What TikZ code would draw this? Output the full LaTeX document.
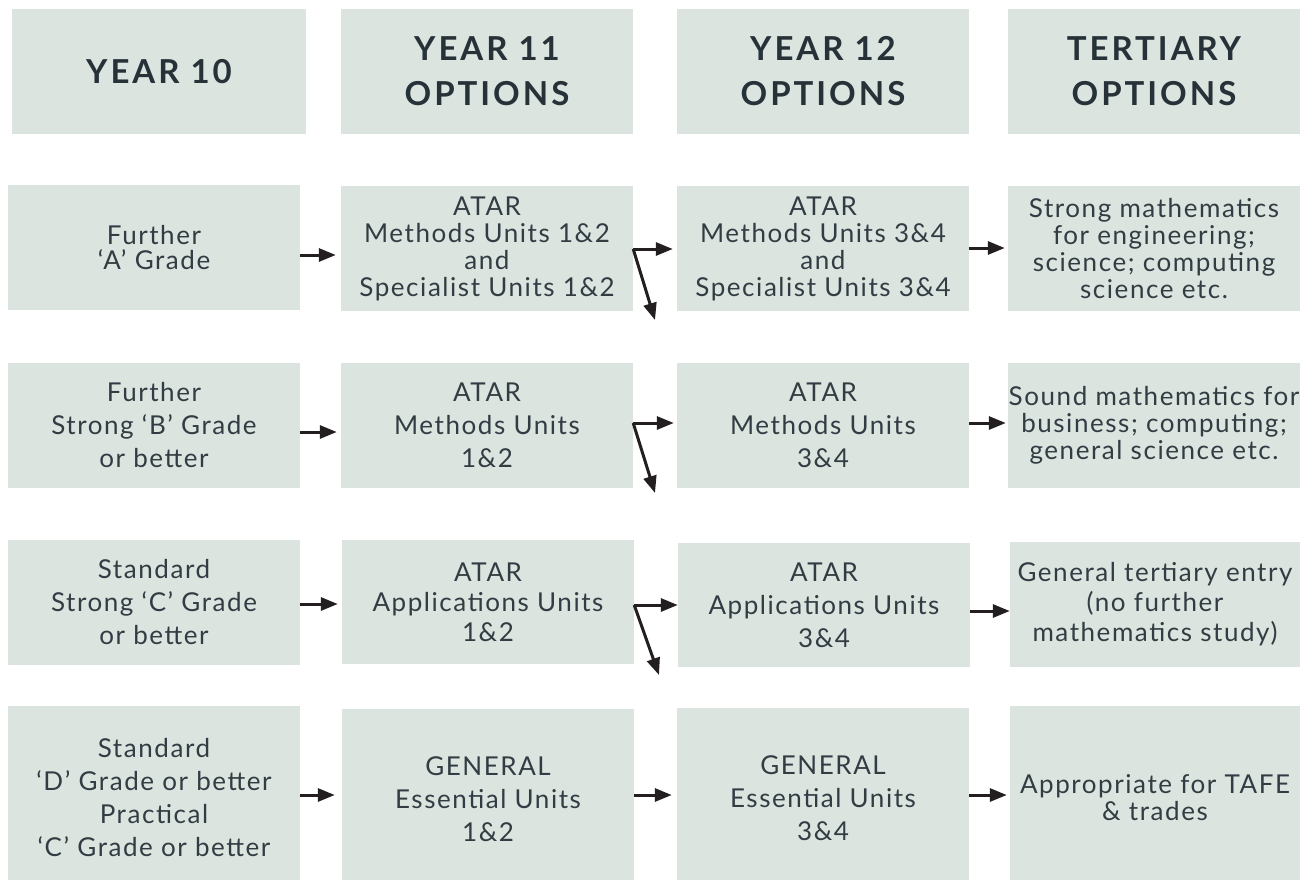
\documentclass[tikz,border=0pt]{standalone}
\usepackage{fontspec}
\setmainfont{Lato}
\newfontfamily\bodyfont[LetterSpace=6]{Lato}
\newfontfamily\headfont[LetterSpace=9]{Lato}
\usetikzlibrary{arrows.meta}
\definecolor{boxfill}{HTML}{DCE4E0}
\definecolor{txtc}{HTML}{323D43}
\definecolor{headc}{HTML}{263238}
\definecolor{arrc}{HTML}{231F20}
\begin{document}
\begin{tikzpicture}[x=1pt,y=-1pt,
  cell/.style={fill=boxfill, inner sep=0pt, align=center, text=txtc,
    minimum width=292pt, minimum height=125pt},
  hd/.style={cell, text=headc, font=\headfont\bfseries\fontsize{33}{45}\selectfont},
  lsA/.style={font=\bodyfont\fontsize{26}{25}\selectfont},
  lsB/.style={font=\bodyfont\fontsize{26}{27}\selectfont},
  lsC/.style={font=\bodyfont\fontsize{26}{30}\selectfont},
  lsD/.style={font=\bodyfont\fontsize{26}{33}\selectfont},
  arr/.style={draw=arrc, line width=3pt, -{Triangle[length=17pt,width=13pt]}}]
\useasboundingbox (0,0) rectangle (1311,879);
% headers
\node[hd, minimum width=294pt] (h1) at (159,71.5) {YEAR 10};
\node[hd] (h2) at (487,71.5) {YEAR 11\\OPTIONS};
\node[hd] (h3) at (823,71.5) {YEAR 12\\OPTIONS};
\node[hd] (h4) at (1154,71.5) {TERTIARY\\OPTIONS};
% row 1
\node[cell, lsA] (a1) at (154,247.5) {Further\\‘A’ Grade};
\node[cell, lsB] (b1) at (487,248.5) {ATAR\\Methods Units 1\&2\\and\\Specialist Units 1\&2};
\node[cell, lsB] (c1) at (823,248.5) {ATAR\\Methods Units 3\&4\\and\\Specialist Units 3\&4};
\node[cell, lsB] (d1) at (1154,248.5) {Strong mathematics\\for engineering;\\science; computing\\science etc.};
% row 2
\node[cell, lsD] (a2) at (154,425.5) {Further\\Strong ‘B’ Grade\\or better};
\node[cell, lsD] (b2) at (487,425.5) {ATAR\\Methods Units\\1\&2};
\node[cell, lsD] (c2) at (823,425.5) {ATAR\\Methods Units\\3\&4};
\node[cell, lsB] (d2) at (1154,425.5) {Sound mathematics for\\business; computing;\\general science etc.};
% row 3
\node[cell, lsD] (a3) at (154,602.5) {Standard\\Strong ‘C’ Grade\\or better};
\node[cell, lsC, minimum height=124pt] (b3) at (488,602) {ATAR\\Applications Units\\1\&2};
\node[cell, lsD, minimum height=124pt] (c3) at (824,605) {ATAR\\Applications Units\\3\&4};
\node[cell, lsC, minimum width=290pt] (d3) at (1155,604.5) {General tertiary entry\\(no further\\mathematics study)};
% row 4
\node[cell, lsD, minimum height=183pt] (a4) at (154,797.5) {Standard\\‘D’ Grade or better\\Practical\\‘C’ Grade or better};
\node[cell, lsD, minimum height=180pt] (b4) at (488,799) {GENERAL\\Essential Units\\1\&2};
\node[cell, lsD, minimum height=181pt] (c4) at (823,798.5) {GENERAL\\Essential Units\\3\&4};
\node[cell, lsB, minimum width=290pt, minimum height=183pt] (d4) at (1155,797.5) {Appropriate for TAFE\\\& trades};
% free ends of the diagonal arrows
\coordinate (e1) at (655,320);
\coordinate (e2) at (655,493);
\coordinate (e3) at (659,675);
% row 1 arrows
\draw[arr] (a1.east |- 0,255) -- ([xshift=-5pt]b1.west |- 0,255);
\draw[arr] (b1.east |- 0,249) -- ([xshift=-4pt]c1.west |- 0,249);
\draw[arr] (b1.east |- 0,249) -- (e1);
\draw[arr] (c1.east |- 0,248) -- ([xshift=-3pt]d1.west |- 0,248);
% row 2 arrows
\draw[arr] (a2.east |- 0,432) -- ([xshift=-4pt]b2.west |- 0,432);
\draw[arr] (b2.east |- 0,423) -- ([xshift=-3pt]c2.west |- 0,423);
\draw[arr] (b2.east |- 0,423) -- (e2);
\draw[arr] (c2.east |- 0,423) -- ([xshift=-2pt]d2.west |- 0,423);
% row 3 arrows
\draw[arr] (a3.east |- 0,604) -- ([xshift=-4pt]b3.west |- 0,604);
\draw[arr] (b3.east |- 0,605) -- (c3.west |- 0,605);
\draw[arr] (b3.east |- 0,605) -- (e3);
\draw[arr] (c3.east |- 0,611) -- (d3.west |- 0,611);
% row 4 arrows
\draw[arr] (a4.east |- 0,795) -- ([xshift=-7pt]b4.west |- 0,795);
\draw[arr] (b4.east |- 0,795) -- ([xshift=-5pt]c4.west |- 0,795);
\draw[arr] (c4.east |- 0,795) -- ([xshift=-3pt]d4.west |- 0,795);
\end{tikzpicture}
\end{document}
